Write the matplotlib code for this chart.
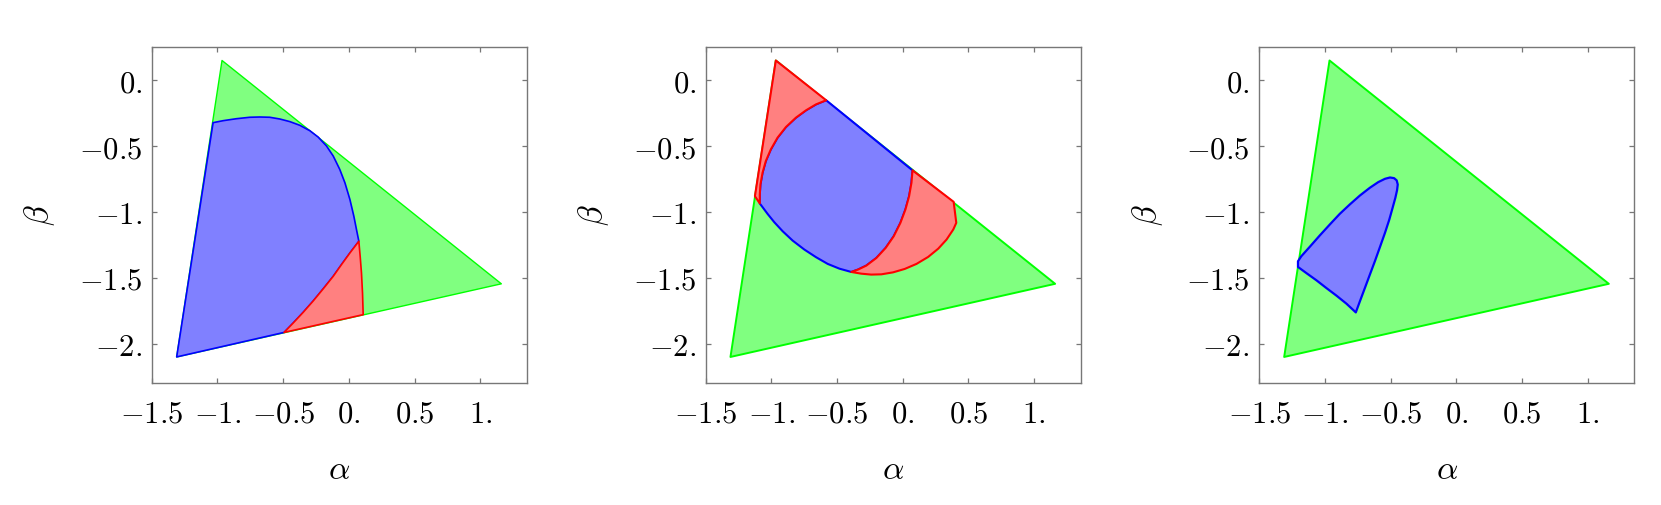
import numpy as np
import matplotlib
matplotlib.use('Agg')
from matplotlib import pyplot as plt

plt.rcParams['mathtext.fontset'] = 'cm'
plt.rcParams['font.family'] = 'DejaVu Serif'

# outer triangle, same in every panel
tri_a = [-0.965, -1.31, 1.16]
tri_b = [0.15, -2.10, -1.545]

# panel 1
p1_blue_a = [-1.033, -0.957, -0.856, -0.754, -0.678, -0.602, -0.526, -0.449, -0.373, -0.297,
             -0.234, -0.170, -0.119, -0.069, -0.030, 0.008, 0.038, 0.058, 0.076,
             0.008, -0.056, -0.119, -0.196, -0.272, -0.348, -0.424, -0.493, -1.31]
p1_blue_b = [-0.322, -0.307, -0.292, -0.281, -0.279, -0.281, -0.294, -0.314, -0.342, -0.383,
             -0.431, -0.499, -0.575, -0.677, -0.778, -0.905, -1.032, -1.133, -1.222,
             -1.311, -1.399, -1.488, -1.584, -1.676, -1.762, -1.843, -1.914, -2.10]
p1_red_a = [0.076, 0.086, 0.096, 0.104, 0.109, -0.493,
            -0.424, -0.348, -0.272, -0.196, -0.119, -0.056, 0.008]
p1_red_b = [-1.222, -1.336, -1.463, -1.617, -1.779, -1.914,
            -1.843, -1.762, -1.676, -1.584, -1.488, -1.399, -1.311]

# panel 2
p2_blue_a = [-0.582, 0.075, 0.067, 0.049, 0.021, -0.017, -0.068, -0.129, -0.200, -0.277, -0.340, -0.391,
             -0.481, -0.570, -0.659, -0.748, -0.837, -0.913, -0.977, -1.028, -1.087,
             -1.087, -1.082, -1.066, -1.041, -1.003, -0.952, -0.888, -0.812, -0.735, -0.659]
p2_blue_b = [-0.152, -0.684, -0.778, -0.880, -0.981, -1.082, -1.184, -1.272, -1.349, -1.407, -1.437, -1.455,
             -1.430, -1.394, -1.343, -1.285, -1.217, -1.146, -1.077, -1.014, -0.935,
             -0.867, -0.791, -0.702, -0.613, -0.525, -0.436, -0.355, -0.284, -0.228, -0.183]
p2_red1_a = [-0.965, -0.582, -0.659, -0.735, -0.812, -0.888, -0.952, -1.003, -1.041, -1.066,
             -1.082, -1.087, -1.087, -1.124]
p2_red1_b = [0.15, -0.152, -0.183, -0.228, -0.284, -0.355, -0.436, -0.525, -0.613, -0.702,
             -0.791, -0.867, -0.935, -0.880]
p2_red2_a = [0.075, 0.388, 0.408, 0.385, 0.334, 0.271, 0.194, 0.105, 0.016, -0.073, -0.162, -0.239, -0.315,
             -0.391, -0.340, -0.277, -0.200, -0.129, -0.068, -0.017, 0.021, 0.049, 0.067]
p2_red2_b = [-0.684, -0.923, -1.082, -1.133, -1.209, -1.278, -1.341, -1.394, -1.432, -1.458, -1.473, -1.475, -1.468,
             -1.455, -1.437, -1.407, -1.349, -1.272, -1.184, -1.082, -0.981, -0.880, -0.778]

# panel 3
p3_blue_a = [-1.205, -1.205, -1.142, -1.065, -0.989, -0.912, -0.836, -0.765,
             -0.734, -0.696, -0.658, -0.620, -0.581, -0.543, -0.510, -0.485, -0.464, -0.451,
             -0.446, -0.454, -0.474, -0.505, -0.543, -0.594, -0.658, -0.734, -0.811, -0.887,
             -0.963, -1.040, -1.116, -1.180]
p3_blue_b = [-1.374, -1.417, -1.463, -1.518, -1.577, -1.635, -1.696, -1.762,
             -1.678, -1.577, -1.475, -1.374, -1.265, -1.158, -1.057, -0.968, -0.892, -0.834,
             -0.791, -0.760, -0.743, -0.738, -0.748, -0.773, -0.816, -0.875, -0.943, -1.014,
             -1.095, -1.179, -1.265, -1.336]

xticks = [-1.5, -1.0, -0.5, 0.0, 0.5, 1.0]
xticklabels = ['$-1.5$', '$-1.$', '$-0.5$', '$0.$', '$0.5$', '$1.$']
yticks = [0.0, -0.5, -1.0, -1.5, -2.0]
yticklabels = ['$0.$', '$-0.5$', '$-1.$', '$-1.5$', '$-2.$']

green = ('#80ff80', '#00ff00')
blue = ('#8080ff', '#0000ff')
red = ('#ff8080', '#ff0000')

panels = [
    [(tri_a, tri_b, green, 1.0), (p1_blue_a, p1_blue_b, blue, 1.2), (p1_red_a, p1_red_b, red, 1.2)],
    [(tri_a, tri_b, green, 1.4), (p2_blue_a, p2_blue_b, blue, 1.5),
     (p2_red1_a, p2_red1_b, red, 1.5), (p2_red2_a, p2_red2_b, red, 1.5)],
    [(tri_a, tri_b, green, 1.4), (p3_blue_a, p3_blue_b, blue, 1.6)],
]

fig = plt.figure(figsize=(16.61, 5.05), dpi=100)
lefts = [151.7, 705.5, 1259.2]
for left, shapes in zip(lefts, panels):
    ax = fig.add_axes([left / 1661, 1 - 383.3 / 505, 375 / 1661, 336 / 505])
    for a, b, (fc, ec), lw in shapes:
        ax.fill(a, b, facecolor=fc, edgecolor=ec, lw=lw, joinstyle='round')
    ax.set_xlim(-1.5, 1.353)
    ax.set_ylim(-2.30, 0.25)
    ax.set_xticks(xticks)
    ax.set_xticklabels(xticklabels)
    ax.set_yticks(yticks)
    ax.set_yticklabels(yticklabels)
    ax.tick_params(direction='in', length=3.6, width=0.9, color='#777777',
                   top=True, right=True, labelsize=22)
    ax.tick_params(axis='x', pad=11)
    ax.tick_params(axis='y', pad=7)
    for s in ax.spines.values():
        s.set_color('#777777')
        s.set_linewidth(1.0)
    ax.set_xlabel(r'$\alpha$', fontsize=24, va='center')
    ax.xaxis.set_label_coords(0.5, -0.258)
    ax.set_ylabel(r'$\beta$', fontsize=24, va='center')
    ax.yaxis.set_label_coords(-0.298, 0.5)

plt.savefig('out.png', dpi=100)
